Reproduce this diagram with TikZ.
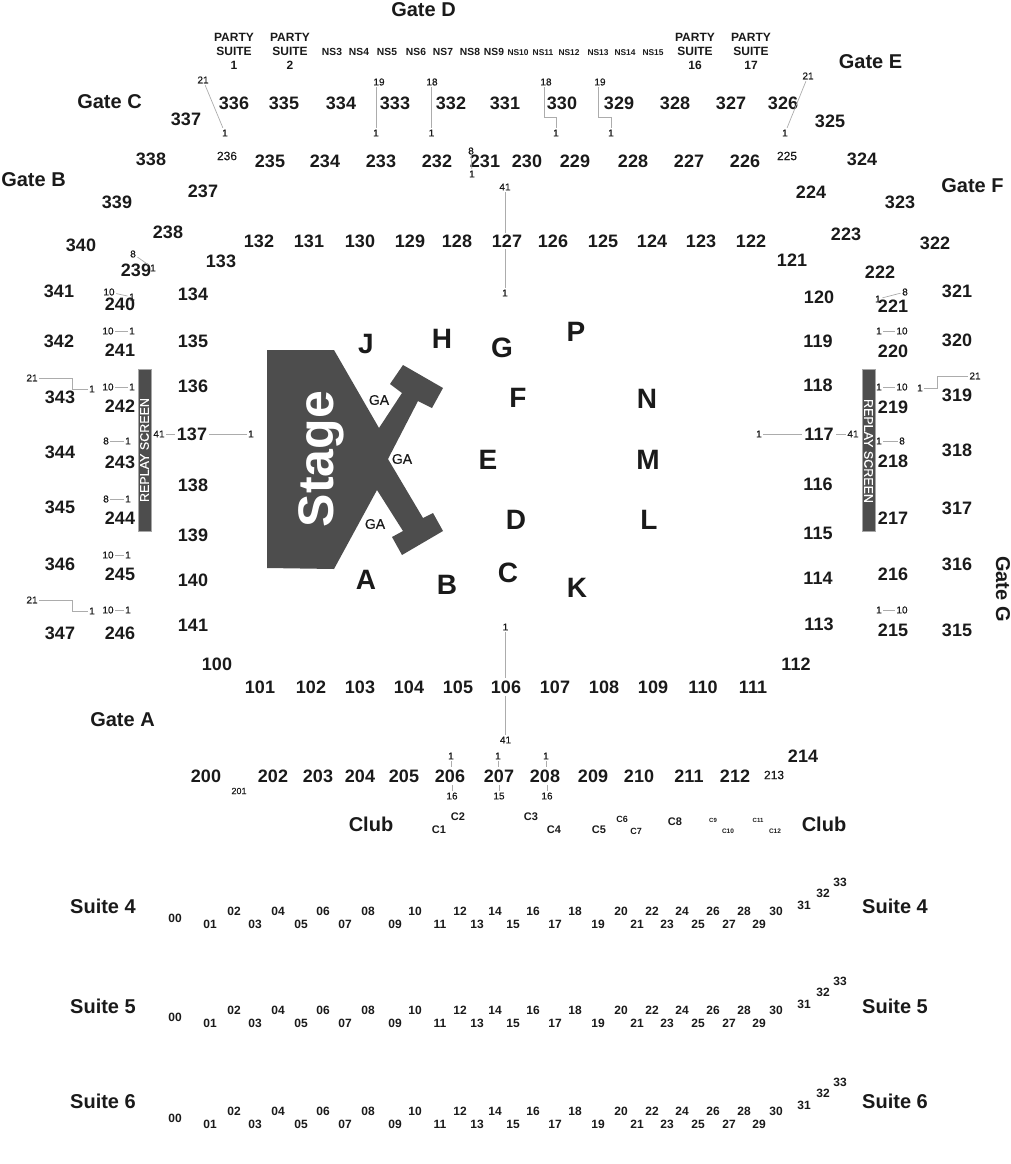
\documentclass[tikz,border=0pt]{standalone}
\usepackage{fontspec}
\setmainfont{Liberation Sans}
\newfontface\medface[FakeBold=0.25]{Liberation Sans}
\definecolor{stagegray}{HTML}{4D4D4D}
\definecolor{inkgray}{HTML}{1A1A1A}
\tikzset{
  sec/.style={font=\fontsize{18}{20}\selectfont\bfseries, text=inkgray, inner sep=2pt},
  gate/.style={font=\fontsize{20}{22}\selectfont\bfseries, text=inkgray, inner sep=0pt},
  floorlet/.style={font=\fontsize{28}{30}\selectfont\bfseries, text=inkgray, inner sep=0pt},
  num/.style={font=\medface\fontsize{10}{11}\selectfont, text=inkgray, inner sep=1.5pt},
  suitenum/.style={font=\fontsize{12}{13}\selectfont\bfseries, text=inkgray, inner sep=0pt},
  leader/.style={draw=gray!65, line width=0.7pt},
  screen/.style={fill=stagegray, draw=gray!70, line width=0.4pt}
}
\begin{document}
\begin{tikzpicture}[x=1pt, y=-1pt]
  \useasboundingbox (0,0) rectangle (1011,1164);
  % stage and screens
  \fill[stagegray] (267,350) -- (334,350) -- (379,428) -- (402,393) -- (390,384) -- (403,365) -- (443,388) -- (432,408) -- (418,401) -- (388,459) -- (423,518) -- (433,513) -- (443,531) -- (402,555) -- (392,537) -- (403,531) -- (377,490) -- (334,569) -- (267,568) -- cycle;
  \node[font=\fontsize{50}{52}\selectfont\bfseries, text=white, rotate=90, anchor=base, inner sep=0pt] (stage) at (333,459) {Stage};
  \node[screen, minimum width=13pt, minimum height=162pt, inner sep=0pt] (screenl) at (144.5,450) {};
  \node[screen, minimum width=13pt, minimum height=162pt, inner sep=0pt] (screenr) at (868.5,450) {};
  \node[font=\medface\fontsize{12.5}{13}\selectfont, text=white, rotate=90, inner sep=0pt] (screenltxt) at (144.5,450) {REPLAY SCREEN};
  \node[font=\medface\fontsize{12.5}{13}\selectfont, text=white, rotate=-90, inner sep=0pt] (screenrtxt) at (868.5,451) {REPLAY SCREEN};
  \foreach \x/\y/\n in {379/400/a, 402/459/b, 375/524/c}
    \node[font=\medface\fontsize{14}{15}\selectfont, text=inkgray, inner sep=0pt] (ga\n) at (\x,\y) {GA};
  % gates
  \foreach \x/\y/\t/\n in {423.5/10/Gate D/d, 109.5/102/Gate C/c, 870.5/62/Gate E/e, 33.5/180/Gate B/b, 972.5/186/Gate F/f, 122.5/720/Gate A/a, 371/824/Club/clubl, 824/824/Club/clubr,
      103/906/Suite 4/sfourl, 895/906/Suite 4/sfourr, 103/1006/Suite 5/sfivel, 895/1006/Suite 5/sfiver, 103/1101/Suite 6/ssixl, 895/1101/Suite 6/ssixr}
    \node[gate] (gate\n) at (\x,\y) {\t};
  \node[gate, rotate=-90] (gateg) at (1003,589) {Gate G};
  % floor letters
  \foreach \x/\y/\t in {366/344/J, 442/339/H, 502/348/G, 576/332/P, 518/398/F, 647/399/N, 488/460/E, 648/460/M, 516/520/D, 649/520/L, 508/573/C, 366/580/A, 447/585/B, 577/588/K}
    \node[floorlet] (fl\t) at (\x,\y) {\t};
  % sections
  \foreach \t/\x/\y in {336/234/103, 335/284/103, 334/341/103, 333/395/103, 332/451/103, 331/505/103, 330/562/103, 329/619/103, 328/675/103, 327/731/103, 326/783/103,
      337/186/119, 325/830/121, 338/151/159, 324/862/159,
      235/270/161, 234/325/161, 233/381/161, 232/437/161, 231/485/161, 230/527/161, 229/575/161, 228/633/161, 227/689/161, 226/745/161,
      237/203/191, 224/811/192, 339/117/202, 323/900/202, 238/168/232, 223/846/234, 340/81/245, 322/935/243,
      132/259/241, 131/309/241, 130/360/241, 129/410/241, 128/457/241, 127/507/241, 126/553/241, 125/603/241, 124/652/241, 123/701/241, 122/751/241,
      133/221/261, 121/792/260, 222/880/272, 239/136/270, 341/59/291, 321/957/291, 134/193/294, 120/819/297, 240/120/304, 221/893/306,
      342/59/341, 241/120/350, 135/193/341, 119/818/341, 220/893/351, 320/957/340,
      343/60/397, 242/120/406, 136/193/386, 118/818/385, 219/893/407, 319/957/395,
      344/60/452, 243/120/462, 137/192/434, 117/819/434, 218/893/461, 318/957/450,
      345/60/507, 244/120/518, 138/193/485, 116/818/484, 217/893/518, 317/957/508,
      346/60/564, 245/120/574, 139/193/535, 115/818/533, 216/893/574, 316/957/564,
      347/60/633, 246/120/633, 140/193/580, 114/818/578, 215/893/630, 315/957/630,
      141/193/625, 113/819/624, 100/217/664, 112/796/664,
      101/260/687, 102/311/687, 103/360/687, 104/409/687, 105/458/687, 106/506/687, 107/555/687, 108/604/687, 109/653/687, 110/703/687, 111/753/687,
      200/206/776, 202/273/776, 203/318/776, 204/360/776, 205/404/776, 206/450/776, 207/499/776, 208/545/776, 209/593/776, 210/639/776, 211/689/776, 212/735/776, 214/803/756}
    \node[sec] (s\t) at (\x,\y) {\t};
  \foreach \t/\x/\y/\fs in {236/227/156/12, 225/787/156/12, 213/774/775/12, 201/239/791/9}
    \node[font=\medface\fontsize{\fs}{\fs}\selectfont, text=inkgray, inner sep=0pt] (s\t) at (\x,\y) {\t};
  % party suites and NS boxes
  \foreach \x/\n in {234/1, 290/2, 695/16, 751/17}
    \node[font=\fontsize{12}{13.7}\selectfont\bfseries, text=inkgray, align=center, inner sep=0pt] (party\n) at (\x,51.5) {PARTY\\SUITE\\\n};
  \foreach \x/\n in {332/3, 359/4, 387/5, 416/6, 443/7, 470/8, 494/9}
    \node[font=\fontsize{10.3}{11}\selectfont\bfseries, text=inkgray, inner sep=0pt] (ns\n) at (\x,52) {NS\n};
  \foreach \x/\n in {518/10, 543/11, 569/12, 598/13, 625/14, 653/15}
    \node[font=\fontsize{8.4}{9}\selectfont\bfseries, text=inkgray, inner sep=0pt] (ns\n) at (\x,53) {NS\n};
  % club boxes
  \foreach \x/\y/\n/\fs in {439/830/1/11, 458/817/2/11, 531/817/3/11, 554/830/4/11, 599/830/5/11, 622/819/6/9, 636/831/7/9, 675/822/8/11, 713/820/9/6, 728/831/10/6.5, 758/820/11/6, 775/831/12/6.5}
    \node[font=\fontsize{\fs}{\fs}\selectfont\bfseries, text=inkgray, inner sep=0pt] (club\n) at (\x,\y) {C\n};
  % suite rows
  \foreach \r/\dy in {4/0, 5/99, 6/200}
    \foreach \t/\x/\y in {00/175/918, 01/210/924, 02/234/911, 03/255/924, 04/278/911, 05/301/924, 06/323/911, 07/345/924, 08/368/911, 09/395/924, 10/415/911, 11/440/924, 12/460/911, 13/477/924, 14/495/911, 15/513/924, 16/533/911, 17/555/924, 18/575/911, 19/598/924, 20/621/911, 21/637/924, 22/652/911, 23/667/924, 24/682/911, 25/698/924, 26/713/911, 27/729/924, 28/744/911, 29/759/924, 30/776/911, 31/804/905, 32/823/893, 33/840/882}
      \node[suitenum] (suite\r-\t) at (\x,{\y+\dy}) {\t};
  % row number pairs
  \foreach \nm/\xa/\ya/\la/\xb/\yb/\lb in {
      ra/203/80/21/225/133/1, rd/471/151/8/472/174/1, re/808/76/21/785/133/1,
      rf/133/254/8/153/268/1, rg/109/292/10/132/297/1, rh/108/331/10/132/331/1, ri/108/387/10/132/387/1, rj/106/441/8/128/441/1,
      rk/106/499/8/128/499/1, rl/108/555/10/128/555/1, rm/108/610/10/128/610/1,
      rn/878/299/1/905/292/8, ro/879/331/1/902/331/10, rp/879/387/1/902/387/10, rq/879/441/1/902/441/8, rr/879/610/1/902/610/10}{
    \node[num] (\nm a) at (\xa,\ya) {\la};
    \node[num] (\nm b) at (\xb,\yb) {\lb};
    \draw[leader] (\nm a) -- (\nm b);
  }
  \node[num] (rba) at (379,82) {19};
  \node[num] (rbb) at (376,133) {1};
  \draw[leader] (rbb |- rba.south) -- (rbb.north);
  \node[num] (rca) at (432,82) {18};
  \node[num] (rcb) at (431.5,133) {1};
  \draw[leader] (rcb |- rca.south) -- (rcb.north);
  % numbers tied to a section
  \foreach \nm/\x/\y/\t/\sc/\an in {ta/505/187/41/127/north, tb/505/293/1/127/south, tc/505.5/627/1/106/north, td/505.5/740/41/106/south,
      ti/451/756/1/206/north, tj/452/796/16/206/south, tk/498/756/1/207/north, tl/499/796/15/207/south, tm/546/756/1/208/north, tn/547/796/16/208/south}{
    \node[num] (\nm) at (\x,\y) {\t};
    \draw[leader] (\nm) -- (\nm |- s\sc.\an);
  }
  \foreach \nm/\x/\y/\t/\sc/\an in {te/159/434/41/137/west, tf/251/434/1/137/east, tg/759/434/1/117/west, th/853/434/41/117/east}{
    \node[num] (\nm) at (\x,\y) {\t};
    \draw[leader] (\nm) -- (\nm -| s\sc.\an);
  }
  % stepped leaders
  \node[num] (ua) at (32,378) {21};
  \node[num] (ub) at (92,389) {1};
  \draw[leader] (ua.east) -- ++(33,0) |- (ub.west);
  \node[num] (uc) at (32,600) {21};
  \node[num] (ud) at (92,611) {1};
  \draw[leader] (uc.east) -- ++(33,0) |- (ud.west);
  \node[num] (ue) at (920,388) {1};
  \node[num] (uf) at (975,376) {21};
  \draw[leader] (uf.west) -- ++(-30,0) |- (ue.east);
  \node[num] (ug) at (546,82) {18};
  \node[num] (uh) at (556,133) {1};
  \draw[leader] (ug.south) ++(-2,0) -- ++(0,30) -| (uh.north);
  \node[num] (ui) at (600,82) {19};
  \node[num] (uj) at (611,133) {1};
  \draw[leader] (ui.south) ++(-2,0) -- ++(0,30) -| (uj.north);
\end{tikzpicture}
\end{document}
